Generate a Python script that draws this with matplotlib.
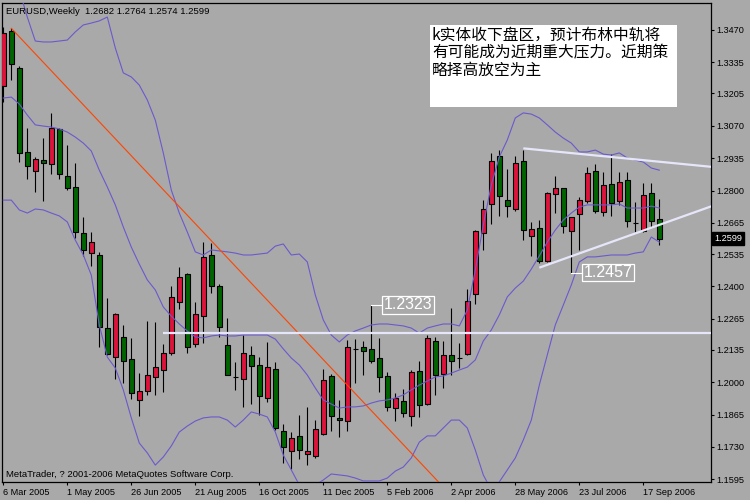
import matplotlib
matplotlib.use('Agg')
import matplotlib.pyplot as plt
from matplotlib.patches import Rectangle

# ---------------- data (EURUSD weekly) ----------------
opens = [1.3236, 1.3466, 1.3310, 1.2960, 1.2883, 1.2926, 1.2912, 1.3056, 1.2859, 1.2815,
         1.2622, 1.2538, 1.2530, 1.2225, 1.2104, 1.2187, 1.2096, 1.1925, 1.1962, 1.2021,
         1.2050, 1.2121, 1.2335, 1.2450, 1.2161, 1.2275, 1.2531, 1.2400, 1.2155, 1.2021,
         1.2012, 1.2112, 1.2071, 1.1935, 1.2054, 1.1795, 1.1712, 1.1774, 1.1699, 1.1691,
         1.1783, 1.2025, 1.1849, 1.1837, 1.2140, 1.2146, 1.2137, 1.2100, 1.2025, 1.1891,
         1.1920, 1.1858, 1.2046, 1.1908, 1.2171, 1.2033, 1.2112, 1.2102, 1.2117, 1.2367,
         1.2622, 1.2743, 1.2944, 1.2759, 1.2722, 1.2922, 1.2609, 1.2642, 1.2505, 1.2784,
         1.2809, 1.2630, 1.2702, 1.2755, 1.2880, 1.2709, 1.2826, 1.2755, 1.2843, 1.2666,
         1.2630, 1.2788, 1.2682]
highs = [1.3484, 1.3477, 1.3320, 1.3062, 1.2941, 1.3019, 1.3124, 1.3060, 1.2990, 1.2914,
         1.2688, 1.2626, 1.2542, 1.2353, 1.2288, 1.2238, 1.2183, 1.2037, 1.2254, 1.2250,
         1.2159, 1.2402, 1.2480, 1.2456, 1.2334, 1.2585, 1.2580, 1.2410, 1.2267, 1.2083,
         1.2197, 1.2152, 1.2106, 1.2167, 1.2083, 1.1824, 1.1791, 1.1862, 1.1895, 1.1841,
         1.2054, 1.2033, 1.1925, 1.2175, 1.2179, 1.2171, 1.2323, 1.2183, 1.2041, 1.1954,
         1.1970, 1.2050, 1.2087, 1.2196, 1.2187, 1.2171, 1.2310, 1.2162, 1.2388, 1.2634,
         1.2759, 1.2955, 1.2969, 1.2889, 1.2944, 1.2969, 1.2669, 1.2676, 1.2795, 1.2859,
         1.2811, 1.2691, 1.2772, 1.2897, 1.2909, 1.2876, 1.2951, 1.2876, 1.2876, 1.2751,
         1.2830, 1.2830, 1.2764]
lows = [1.3171, 1.3261, 1.2920, 1.2849, 1.2795, 1.2758, 1.2870, 1.2849, 1.2803, 1.2603,
        1.2528, 1.2486, 1.2148, 1.2114, 1.2012, 1.1995, 1.1931, 1.1860, 1.1948, 1.1945,
        1.1958, 1.2112, 1.2307, 1.2121, 1.2148, 1.2165, 1.2371, 1.2187, 1.2030, 1.1968,
        1.1895, 1.1908, 1.1864, 1.1916, 1.1801, 1.1662, 1.1637, 1.1678, 1.1653, 1.1682,
        1.1778, 1.1795, 1.1770, 1.1795, 1.1998, 1.2031, 1.2079, 1.1960, 1.1881, 1.1839,
        1.1856, 1.1818, 1.1854, 1.1905, 1.1945, 1.1975, 1.2029, 1.2058, 1.2114, 1.2325,
        1.2551, 1.2659, 1.2692, 1.2688, 1.2713, 1.2594, 1.2526, 1.2496, 1.2503, 1.2705,
        1.2622, 1.2457, 1.2553, 1.2747, 1.2705, 1.2692, 1.2692, 1.2738, 1.2647, 1.2628,
        1.2628, 1.2647, 1.2574]
closes = [1.3456, 1.3327, 1.2955, 1.2904, 1.2930, 1.2916, 1.3060, 1.2870, 1.2812, 1.2628,
          1.2553, 1.2584, 1.2229, 1.2117, 1.2283, 1.2087, 1.1954, 1.1962, 1.2029, 1.2062,
          1.2121, 1.2354, 1.2438, 1.2146, 1.2283, 1.2524, 1.2403, 1.2229, 1.2030, 1.2021,
          1.2121, 1.2066, 1.1944, 1.2062, 1.1808, 1.1728, 1.1766, 1.1716, 1.1712, 1.1803,
          1.2008, 1.1858, 1.1841, 1.2146, 1.2140, 1.2129, 1.2087, 1.2021, 1.1898, 1.1933,
          1.1870, 1.2041, 1.1904, 1.2183, 1.2029, 1.2112, 1.2087, 1.2102, 1.2338, 1.2631,
          1.2722, 1.2922, 1.2776, 1.2734, 1.2914, 1.2635, 1.2638, 1.2506, 1.2788, 1.2809,
          1.2652, 1.2688, 1.2759, 1.2872, 1.2716, 1.2822, 1.2747, 1.2834, 1.2672, 1.2666,
          1.2780, 1.2674, 1.2599]

bb_upper = [1.3783, 1.3720, 1.3637, 1.3524, 1.3424, 1.3420, 1.3420, 1.3424, 1.3428, 1.3462,
            1.3491, 1.3499, 1.3508, 1.3524, 1.3395, 1.3291, 1.3274, 1.3240, 1.3178, 1.3094,
            1.2957, 1.2802, 1.2706, 1.2627, 1.2544, 1.2531, 1.2552, 1.2548, 1.2544, 1.2539,
            1.2531, 1.2531, 1.2535, 1.2539, 1.2568, 1.2577, 1.2531, 1.2535, 1.2502, 1.2364,
            1.2260, 1.2197, 1.2168, 1.2197, 1.2214, 1.2226, 1.2239, 1.2243, 1.2243, 1.2239,
            1.2235, 1.2226, 1.2205, 1.2226, 1.2235, 1.2243, 1.2243, 1.2235, 1.2301, 1.2468,
            1.2656, 1.2823, 1.2940, 1.3011, 1.3103, 1.3124, 1.3119, 1.3103, 1.3074, 1.3044,
            1.3019, 1.2998, 1.2961, 1.2961, 1.2969, 1.2952, 1.2948, 1.2957, 1.2936, 1.2927,
            1.2919, 1.2894, 1.2885]
bb_middle = [1.3186, 1.3190, 1.3161, 1.3115, 1.3074, 1.3069, 1.3065, 1.3057, 1.3044, 1.3023,
             1.2998, 1.2965, 1.2885, 1.2815, 1.2740, 1.2648, 1.2564, 1.2493, 1.2427, 1.2385,
             1.2314, 1.2276, 1.2243, 1.2214, 1.2189, 1.2185, 1.2193, 1.2197, 1.2193, 1.2193,
             1.2197, 1.2197, 1.2197, 1.2197, 1.2180, 1.2139, 1.2101, 1.2072, 1.2030, 1.1976,
             1.1926, 1.1909, 1.1892, 1.1897, 1.1897, 1.1901, 1.1913, 1.1922, 1.1926, 1.1934,
             1.1947, 1.1968, 1.1988, 1.2005, 1.2022, 1.2026, 1.2038, 1.2051, 1.2063, 1.2093,
             1.2172, 1.2218, 1.2281, 1.2356, 1.2393, 1.2422, 1.2472, 1.2527, 1.2585, 1.2635,
             1.2677, 1.2706, 1.2731, 1.2740, 1.2740, 1.2740, 1.2740, 1.2744, 1.2727, 1.2727,
             1.2727, 1.2735, 1.2727]
bb_lower = [1.2760, 1.2760, 1.2719, 1.2706, 1.2723, 1.2719, 1.2706, 1.2694, 1.2669, 1.2593,
            1.2531, 1.2447, 1.2239, 1.2105, 1.2059, 1.1968, 1.1851, 1.1746, 1.1705, 1.1654,
            1.1688, 1.1734, 1.1792, 1.1817, 1.1838, 1.1851, 1.1855, 1.1855, 1.1842, 1.1813,
            1.1842, 1.1876, 1.1867, 1.1855, 1.1792, 1.1696, 1.1634, 1.1571, 1.1550, 1.1571,
            1.1592, 1.1617, 1.1613, 1.1609, 1.1600, 1.1588, 1.1588, 1.1588, 1.1600, 1.1629,
            1.1646, 1.1684, 1.1750, 1.1776, 1.1776, 1.1809, 1.1842, 1.1842, 1.1809, 1.1717,
            1.1613, 1.1550, 1.1584, 1.1634, 1.1684, 1.1759, 1.1842, 1.1988, 1.2114, 1.2239,
            1.2322, 1.2406, 1.2502, 1.2523, 1.2523, 1.2527, 1.2531, 1.2531, 1.2531, 1.2539,
            1.2544, 1.2606, 1.2585]

trend_k = [1, 56]
trend_p = [1.3477, 1.1527]
support_k = [20, 90]
support_p = [1.2204, 1.2204]
tri_up_k = [65, 90]
tri_up_p = [1.2976, 1.2894]
tri_lo_k = [67, 90]
tri_lo_p = [1.2478, 1.2752]

high_mark = (46, 1.2323)
low_mark = (71, 1.2457)
last_price = 1.2599

x_tick_idx = [0, 8, 16, 24, 32, 40, 48, 56, 64, 72, 80]
x_tick_labels = ['6 Mar 2005', '1 May 2005', '26 Jun 2005', '21 Aug 2005', '16 Oct 2005',
                 '11 Dec 2005', '5 Feb 2006', '2 Apr 2006', '28 May 2006', '23 Jul 2006',
                 '17 Sep 2006']
y_ticks = [1.3470, 1.3335, 1.3205, 1.3070, 1.2935, 1.2800, 1.2665, 1.2535, 1.2400,
           1.2265, 1.2135, 1.2000, 1.1865, 1.1730, 1.1595]
y_tick_labels = ['1.3470', '1.3335', '1.3205', '1.3070', '1.2935', '1.2800', '1.2665',
                 '1.2535', '1.2400', '1.2265', '1.2135', '1.2000', '1.1865', '1.1730', '1.1595']

title_text = 'EURUSD,Weekly  1.2682 1.2764 1.2574 1.2599'
copyright_text = 'MetaTrader, ? 2001-2006 MetaQuotes Software Corp.'
note_lines = ['k实体收下盘区，预计布林中轨将',
              '有可能成为近期重大压力。近期策',
              '略择高放空为主']

# ---------------- drawing ----------------
BG = '#a9a9a9'
UP = '#dc143c'
DOWN = '#006400'
BAND = '#6a5acd'
WHITE_LINE = '#e6e6fa'
FONT = 'Liberation Sans'

W, H = 750, 500
fig = plt.figure(figsize=(7.5, 5), dpi=100, facecolor=BG)
L, R, T, B = 2.3, 710.7, 2.7, 482.3
ax = fig.add_axes([L / W, 1 - B / H, (R - L) / W, (B - T) / H], facecolor=BG)

n = len(opens)
idx = list(range(n))
ax.set_xlim(-0.125, 88.425)
ax.set_ylim(1.15823, 1.35839)

ax.vlines(idx, lows, highs, colors='black', linewidth=0.8, zorder=2)
body_bottom = [min(o, c) for o, c in zip(opens, closes)]
body_h = [abs(c - o) for o, c in zip(opens, closes)]
body_col = [UP if c > o else DOWN for o, c in zip(opens, closes)]
ax.bar(idx, body_h, bottom=body_bottom, width=0.6, color=body_col,
       edgecolor='black', linewidth=0.8, zorder=3)

for band in (bb_upper, bb_middle, bb_lower):
    ax.plot(idx, band, color=BAND, lw=0.8, zorder=4)

ax.plot(trend_k, trend_p, color='#ff4500', lw=0.8, zorder=4)
ax.plot(support_k, support_p, color=WHITE_LINE, lw=1.6, zorder=5, solid_capstyle='butt')
ax.plot(tri_up_k, tri_up_p, color=WHITE_LINE, lw=1.6, zorder=5, solid_capstyle='butt')
ax.plot(tri_lo_k, tri_lo_p, color=WHITE_LINE, lw=1.6, zorder=5, solid_capstyle='butt')

for (k, p) in (high_mark, low_mark):
    ax.plot([k, k + 1.35], [p, p], color='white', lw=0.8, zorder=6)
    ax.text(k + 1.55, p, f'{p:.4f}', color='white', fontsize=11.5, family=FONT,
            ha='left', va='center', zorder=6,
            bbox=dict(boxstyle='square,pad=0.08', fc='none', ec='white', lw=0.9))

# axes style
for s in ax.spines.values():
    s.set_color('black')
    s.set_linewidth(0.9)
ax.yaxis.tick_right()
ax.set_yticks(y_ticks)
ax.set_yticklabels(y_tick_labels)
ax.set_xticks(x_tick_idx)
ax.set_xticklabels(x_tick_labels)
ax.tick_params(axis='both', colors='black', labelsize=6.6, length=2.5, width=0.8, pad=1.5)
for lab in ax.get_xticklabels():
    lab.set_horizontalalignment('left')
    lab.set_family(FONT)
for lab in ax.get_yticklabels():
    lab.set_family(FONT)

# current price tag
ax.text(1.0046, last_price, f'{last_price:.4f}', transform=ax.get_yaxis_transform(),
        color='white', fontsize=6.6, family=FONT, ha='left', va='center', zorder=7,
        clip_on=False,
        bbox=dict(boxstyle='square,pad=0.2', fc='black', ec='black'))

# note box
fig.add_artist(Rectangle((430 / W, 1 - 107.3 / H), 247 / W, 82.3 / H,
                         transform=fig.transFigure, facecolor='white',
                         edgecolor='none', zorder=10))
fig.text(432 / W, 1 - 26.5 / H, '\n'.join(note_lines), fontsize=11.3,
         family=['Noto Sans CJK SC', 'DejaVu Sans'], color='black',
         ha='left', va='top', linespacing=1.06, zorder=11)

fig.text(6.5 / W, 1 - 14.3 / H, title_text, fontsize=6.8, family=FONT,
         color='black', ha='left', va='baseline', zorder=11)
fig.text(5.5 / W, 1 - 477.3 / H, copyright_text, fontsize=6.8, family=FONT,
         color='black', ha='left', va='baseline', zorder=11)

fig.savefig('out.png', dpi=100, facecolor=BG)
